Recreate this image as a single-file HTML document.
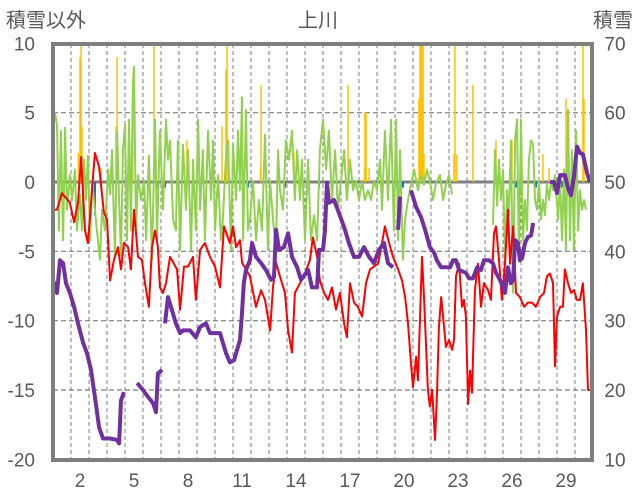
<!DOCTYPE html>
<html><head><meta charset="utf-8"><style>
body{margin:0;background:#fff;width:636px;height:501px;overflow:hidden}
svg{display:block;font-family:"Liberation Sans","Noto Sans CJK JP",sans-serif}
</style></head><body>
<svg id="chart" width="636" height="501">
<text x="46" y="27" font-size="20" fill="#595959" text-anchor="middle">積雪以外</text>
<text x="318" y="27" font-size="20" fill="#595959" text-anchor="middle">上川</text>
<text x="613" y="27" font-size="20" fill="#595959" text-anchor="middle">積雪</text>
<g id="grid"></g>
<g id="bars"></g>
<g id="lines"></g>
<g id="axes"></g>
</svg>
<script>
const xTickLabels=[2,5,8,11,14,17,20,23,26,29];
const leftTicks=[10,5,0,-5,-10,-15,-20];
const rightTicks=[70,60,50,40,30,20,10];
const yellowT=[1.41,1.50,1.56,1.61,2.67,3.50,3.56,4.44,5.61,7.44,9.39,9.61,9.67,11.53,11.56,13.39,16.39,16.44,17.31,17.33,17.39,17.56,20.33,20.39,20.44,20.50,20.56,20.61,22.28,22.33,22.44,23.33,24.61,25.50,27.22,27.56,28.50,29.44,29.50];
const yellowV=[2.1,9,10,4,1,4,9,7,10,3,4,8.1,10,1,7,2.1,7,1,1,5,5,1,6,10,10,10,10,2,2,10,2,7,3,3,2,1,6,10,6];
const blueT=[2.33,5.83,6.22,10.61,10.83,12.89,14.78,19.11,19.44,25.72,26.83,28.28];
const blueV=[-2.4,-0.4,-0.4,-0.4,-0.4,-0.4,-0.4,-0.4,-0.4,-0.4,-0.4,-0.4];
const redT=[0,.22,.5,.94,1.17,1.39,1.56,1.78,1.94,2.11,2.33,2.56,2.83,3,3.17,3.39,3.61,3.78,3.94,4.17,4.33,4.5,4.72,4.94,5.11,5.33,5.5,5.67,5.83,5.94,6.11,6.28,6.5,6.72,6.89,7.06,7.28,7.5,7.78,7.94,8.17,8.44,8.72,9,9.28,9.5,9.83,10,10.17,10.39,10.5,10.72,10.94,11.28,11.56,11.78,12.06,12.22,12.39,12.56,12.72,12.89,13.06,13.28,13.44,13.72,14,14.28,14.44,14.67,14.83,15.06,15.28,15.5,15.72,15.94,16.17,16.33,16.5,16.72,16.94,17.17,17.39,17.61,17.83,18.06,18.28,18.44,18.67,18.89,19.17,19.39,19.56,19.72,19.89,20,20.17,20.28,20.5,20.61,20.83,20.94,21.06,21.17,21.22,21.33,21.44,21.56,21.67,21.83,22,22.17,22.28,22.39,22.56,22.72,22.83,22.94,23.06,23.17,23.28,23.44,23.61,23.78,23.94,24.17,24.33,24.5,24.61,24.78,24.94,25.11,25.28,25.39,25.56,25.72,25.94,26.17,26.39,26.61,26.83,27.06,27.28,27.44,27.61,27.78,27.89,28,28.17,28.33,28.44,28.61,28.78,28.94,29.11,29.28,29.44,29.61,29.72,29.83];
const redV=[-2,-2,-.8,-1.5,-2.9,-1.5,1.8,-3.5,-4.4,-1.5,2.1,1.1,-2.2,-2.7,-7.1,-5.6,-4.7,-6.3,-4.4,-4.7,-6.3,-2,-5.4,-5.6,-7.3,-9,-4.7,-3.5,-4.7,-7.6,-8,-7.3,-5.4,-5.9,-6.3,-9.2,-6.1,-6.1,-5.4,-8.5,-4.9,-4.4,-5.4,-6.1,-7.6,-3.2,-4.4,-3.2,-4.7,-4.2,-5.8,-6.3,-6.8,-9,-7.8,-8.5,-10.7,-7.6,-5.8,-6.6,-7.3,-8,-10.7,-12.3,-8,-7.3,-6.6,-5.6,-4,-5.4,-7.1,-8,-8.5,-7.6,-9.2,-8,-10.2,-11.2,-7.3,-8.7,-9,-9.7,-7.3,-6.3,-6.1,-5.9,-4.4,-3.2,-4.4,-5.4,-6.3,-7.1,-8.3,-10.2,-13.1,-14.8,-12.6,-14.3,-5.4,-8.3,-15,-16.2,-15,-17.4,-18.6,-15.5,-10.5,-8.3,-9.7,-11.9,-11.4,-12.1,-11.4,-6.8,-5.9,-9,-8.5,-9.7,-16,-13.6,-15.2,-7.8,-5.9,-9,-7.3,-7.8,-8.5,-3.7,-3.2,-5.6,-8.5,-5.9,-2,-5.9,-3.2,-8,-8.3,-9,-8.7,-8.7,-9,-8.3,-8,-6.8,-6.6,-7.3,-13.3,-9.7,-9,-9,-6.3,-7.3,-8,-7.8,-8.5,-8.5,-7.3,-10.7,-15,-15];
const purpleT=[0,.22,.39,.56,.72,.94,1.17,1.39,1.67,1.89,2.11,2.33,2.56,2.78,3.17,3.56,3.67,3.78,3.94,null,4.67,5,5.28,5.56,5.72,5.83,6.06,null,6.22,6.39,6.61,6.83,7.06,7.22,7.61,7.94,8.17,8.5,8.72,9.28,9.61,9.83,10.06,10.17,10.39,10.5,10.6,10.72,10.94,11.06,11.28,11.56,11.83,12.11,12.28,12.39,12.56,12.83,13.06,13.28,13.56,13.78,14.06,14.17,14.39,14.67,14.78,15,15.11,15.22,15.33,15.61,15.89,16.17,16.44,16.72,17,17.28,17.56,17.83,18.11,18.39,18.61,18.89,null,19.17,19.28,null,19.89,20.17,20.44,20.67,20.94,21.17,21.33,21.56,22.06,22.22,22.39,22.56,22.94,23.11,23.33,23.56,23.78,23.94,24.22,24.44,24.61,24.83,25,25.11,25.28,25.44,25.56,25.67,25.83,25.94,26.06,26.22,26.39,26.56,26.67,null,27.61,27.83,28,28.17,28.44,28.61,28.78,28.94,29.11,29.28,29.44,29.67,29.83];
const purpleV=[35.9,34,38.7,38.3,35.4,34,32,29.6,26.8,25.3,22.9,19,14.6,13,13,12.8,12.3,18.5,19.7,null,21,20,19,18.1,16.8,22.4,22.9,null,29.6,33.4,31.5,29.6,28.2,28.6,28.6,27.6,29.1,29.6,28.2,28.2,25.3,24,24.3,25.3,27.2,31.1,35.4,37.3,38.7,41.2,39.2,38.3,37.3,35.9,36.3,43.1,40.2,40.6,42.6,39.2,37.7,35.9,36.9,37.3,34.8,34.8,40.2,40.2,43.1,49.9,47,47.4,45.5,43.5,41.2,39.2,39.2,40.6,39.2,38.3,40.2,41.2,38.3,37.7,null,43.1,47.9,null,48.8,46.4,45,43.1,40.6,39.8,38.7,37.7,37.7,38.7,38.7,37.3,36.9,36.1,36.1,37.7,37.3,38.7,38.7,38.3,36.9,35.9,34.8,34,37.7,35.4,35.9,41.6,41.2,38.7,39,41.2,42.1,42.3,44.1,null,50,50,48.4,51,51,49.1,48.1,50.7,55.1,54.2,54,51.3,50];
const greenT=[0,.11,.22,.33,.44,.56,.67,.78,.94,1.06,1.22,1.33,1.5,1.61,1.72,1.83,1.94,2.06,2.17,2.28,2.44,2.61,2.72,2.89,3.06,3.17,3.28,3.44,3.56,3.67,3.78,3.89,4,4.11,4.22,4.33,4.44,4.5,4.61,4.72,4.89,5.06,5.17,5.33,5.5,5.67,5.78,5.94,6.11,6.28,6.39,6.5,6.67,6.83,6.94,7.06,7.22,7.39,7.5,7.67,7.78,7.94,8.06,8.17,8.33,8.44,8.61,8.78,8.89,9,9.17,9.33,9.44,9.61,9.72,9.89,10,10.17,10.28,10.39,10.5,10.56,10.72,10.83,10.94,11.11,11.28,11.44,11.61,11.78,11.94,12.06,12.22,12.39,12.5,12.61,12.78,12.94,13.11,13.28,13.44,13.56,13.72,13.83,14,14.17,14.33,14.5,14.67,14.83,15,15.17,15.33,15.5,15.67,15.83,16,16.17,16.33,16.5,16.67,16.83,17,17.17,17.33,17.5,17.67,17.83,18,18.17,18.28,18.44,18.61,18.78,18.94,19.06,19.17,19.28,19.44,19.56,19.72,19.89,20.06,20.28,20.44,20.61,20.78,20.94,21.11,21.28,21.5,21.67,21.83,22,22.17,null,24.44,24.56,24.67,24.78,24.89,25,25.11,25.22,25.33,25.44,25.56,25.67,25.78,25.89,26,26.11,26.22,26.33,26.44,26.56,26.67,26.78,26.89,27,27.11,27.22,27.33,27.44,27.56,27.67,27.78,27.89,28.06,28.17,28.28,28.39,28.5,28.61,28.72,28.83,28.94,29.06,29.17,29.28,29.39,29.5,29.61];
const greenV=[3.7,5,4.1,-3.5,3.7,-4.2,3.9,-2,.5,-1.3,.9,-3.5,-.9,-3.5,1.6,-1.3,1.9,-4.2,.1,-1.3,-3.5,-5.6,-2,-3.5,.9,-.9,2.3,-5.3,3.7,-1.3,-5.3,2.3,4.1,-4.2,4.5,-3.5,7,8.3,-3.5,.5,-1.3,.1,-4.2,1.9,-5.6,4.5,-4.2,3.7,-2,4.5,1.6,3,-2.7,-3.5,3,-4.9,2.7,-2,2.3,-4.9,1.6,-3.5,4.5,-2,2.3,-4.2,3.7,-1.3,3,-3.5,.5,-4.2,-2.7,1.9,3,-4.9,2.7,-1.3,3.7,-.6,6.1,-4.2,5.2,-3.5,-2.7,.1,-4.2,-1.3,-3.5,3.4,-4.9,.1,-2.7,-4.9,2.3,-.6,-2,3,1.6,3.7,-1.3,2.3,-1.3,1.6,-4.2,1.6,-4.2,-2.4,-4.2,2.3,4.5,.9,3.7,-1.3,2.3,-2,.1,2.3,-1.3,1.6,-.6,.1,-1.3,.1,-1.3,-.6,-1.3,.1,-.6,1.6,-2,3.7,-1.3,4.5,-3.5,4.5,-4.2,2.3,-5.6,-2.7,-1.3,-.2,.9,-.6,.5,-.2,.9,.1,-1.3,-.1,.5,-1.3,-.2,.5,-.9,null,-3.1,2.3,-1.7,1.6,-1.3,.9,-5.6,-.6,-2.4,3,-8,3,4.5,-5.6,4.5,-4.2,-1.3,-3.5,1.6,3,2.7,-1.3,-2,.1,-2.7,-1.3,-2.4,-.2,-1.3,.1,-.6,.5,-2.7,.1,-4.2,.9,-4.9,5.2,-4.2,2.3,-4.9,3.7,-3.5,-.6,-2,-1.3,-2];

const NS='http://www.w3.org/2000/svg';
const X0=53,X1=592,YT=44,YB=460;
function X(t){return X0+18*t;}
function Y(v){return 182-13.867*v;}
function YR(s){return 182-6.933*(s-50);}
function mk(tag,attrs,parent){const e=document.createElementNS(NS,tag);for(const k in attrs)e.setAttribute(k,attrs[k]);parent.appendChild(e);return e;}
const grid=document.getElementById('grid'),bars=document.getElementById('bars'),lines=document.getElementById('lines'),axes=document.getElementById('axes');
for(let d=1;d<30;d++){
  const l=mk('line',{x1:X(d),x2:X(d),y1:YT,y2:YB,stroke:'#7f7f7f','stroke-width':1,'stroke-dasharray':'4,3'},grid);
  
  
}
leftTicks.forEach(v=>{
  if(v===0||v===10||v===-20)return;
  const l=mk('line',{x1:X0,x2:X1,y1:Y(v),y2:Y(v),stroke:'#7f7f7f','stroke-width':1.2,'stroke-dasharray':'5,3'},grid);
  
  
});
yellowT.forEach((t,i)=>{
  const v=Math.min(yellowV[i],10);
  const r=mk('rect',{x:X(t)-0.75,y:Y(v),width:1.5,height:Y(0)-Y(v),fill:'#ffc000'},bars);
  
  
});
blueT.forEach((t,i)=>{
  const r=mk('rect',{x:X(t)-1,y:Y(0),width:2,height:Y(blueV[i])-Y(0),fill:'#0070c0'},bars);
  
  
});
const zl=mk('line',{x1:X0,x2:X1,y1:Y(0),y2:Y(0),stroke:'#7f7f7f','stroke-width':3},grid);


function pathD(T,V,fy){let d='',pen=false;for(let i=0;i<T.length;i++){if(T[i]===null||V[i]===null){pen=false;continue;}d+=(pen?'L':'M')+X(T[i]).toFixed(1)+','+fy(V[i]).toFixed(1);pen=true;}return d;}
const g=mk('path',{d:pathD(greenT,greenV,Y),fill:'none',stroke:'#92d050','stroke-width':2,'stroke-linejoin':'round'},lines);


const r=mk('path',{d:pathD(redT,redV,Y),fill:'none',stroke:'#ff0000','stroke-width':2,'stroke-linejoin':'round'},lines);


const p=mk('path',{d:pathD(purpleT,purpleV,YR),fill:'none',stroke:'#7030a0','stroke-width':4,'stroke-linejoin':'round'},lines);


const fr=mk('rect',{x:X0,y:YT,width:X1-X0,height:YB-YT,fill:'none',stroke:'#7f7f7f','stroke-width':4},axes);


leftTicks.forEach(v=>{
  const t=mk('text',{x:35,y:Y(v)+7,'font-size':19,fill:'#595959','text-anchor':'end'},axes);
  t.textContent=v;
  
  
});
rightTicks.forEach(v=>{
  const t=mk('text',{x:615,y:YR(v)+7,'font-size':19,fill:'#595959','text-anchor':'middle'},axes);
  t.textContent=v;
  
  
});
xTickLabels.forEach(d=>{
  const t=mk('text',{x:X(d-0.5),y:487,'font-size':19,fill:'#595959','text-anchor':'middle'},axes);
  t.textContent=d;
  
  
});
</script>
</body></html>
